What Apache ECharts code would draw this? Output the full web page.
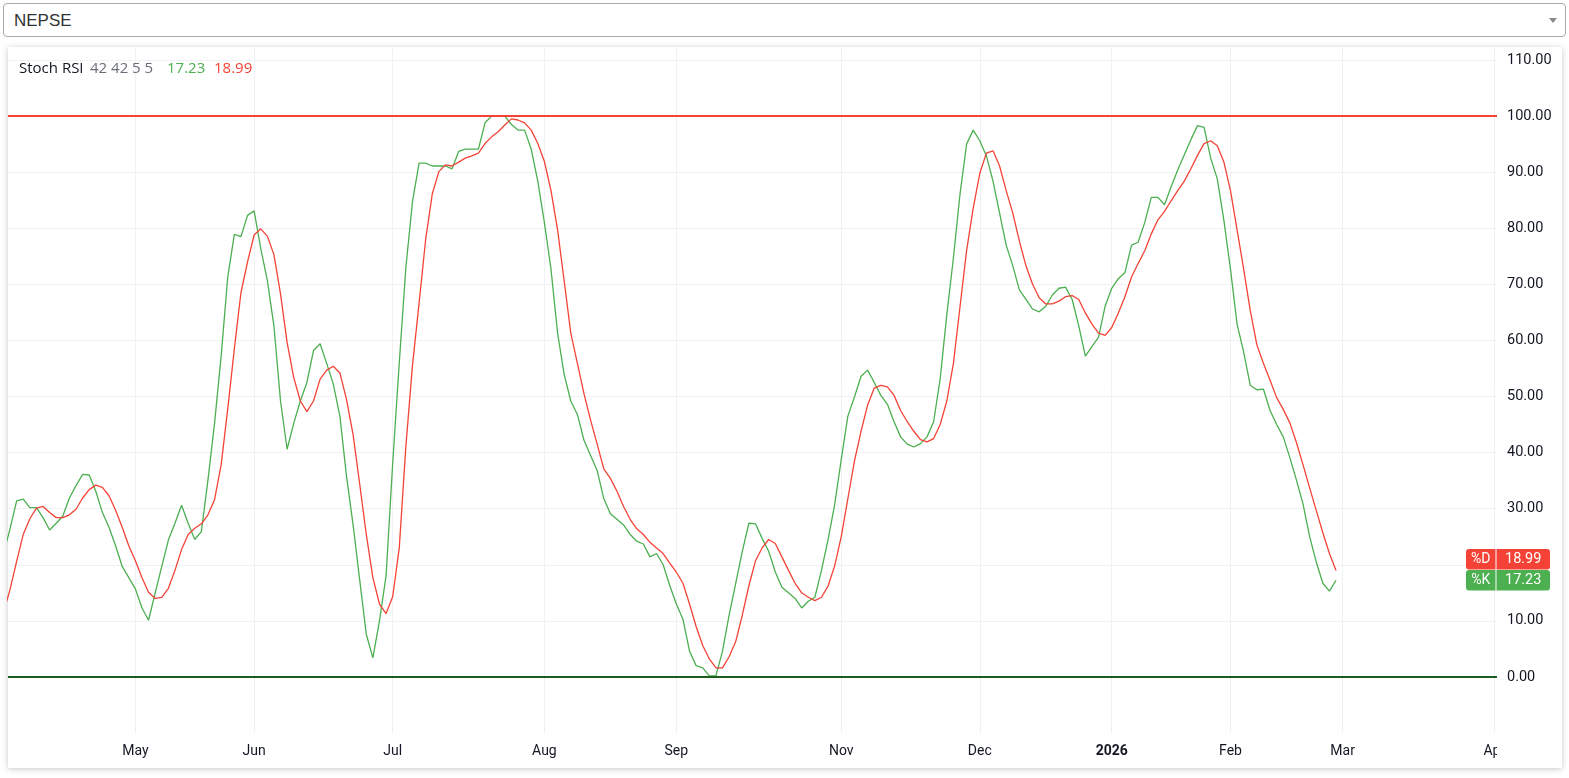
<!DOCTYPE html>
<html>
<head>
<meta charset="utf-8">
<script src="https://cdn.jsdelivr.net/npm/echarts@6/dist/echarts.min.js"></script>
<style>
html,body{margin:0;padding:0;background:#fff;width:1569px;height:778px;overflow:hidden;font-family:"Liberation Sans",Arial,sans-serif;}
#sel{position:absolute;left:3px;top:3px;width:1561px;height:32px;border:1px solid #aaa;border-radius:4px;background:#fff;}
#sel span{position:absolute;left:10px;top:0;line-height:33px;font-size:17px;color:#333;}
#arrow{position:absolute;right:8px;top:14px;width:0;height:0;border-left:4px solid transparent;border-right:4px solid transparent;border-top:5px solid #888;}
#card{position:absolute;left:8px;top:47px;width:1554px;height:721px;background:#fff;box-shadow:0 1px 6px rgba(0,0,0,0.22);}
#chart{position:absolute;left:0;top:0;width:1569px;height:778px;}
</style>
</head>
<body>
<div id="sel"><span>NEPSE</span><div id="arrow"></div></div>
<div id="card"></div>
<div id="chart"></div>
<script>
// ---- data (bar index = trading day; first value belongs to bar -1, partly off-screen) ----
const firstBarIndex = -1;
const kValues = [21.9,
26.4,31.4,31.7,30.2,30.2,28.4,26.2,27.4,28.7,31.9,34.1,36.1,36.0,33.1,29.3,26.7,23.4,19.7,17.7,15.7,
12.3,10.1,15.0,19.7,24.4,27.4,30.6,27.4,24.5,25.9,35.1,45.2,57.2,71.3,78.9,78.5,82.3,83.1,76.4,70.7,
62.6,49.2,40.6,45.2,49.2,52.5,58.2,59.4,55.9,52.2,46.5,35.8,27.1,17.3,7.6,3.4,10.0,18.0,38.0,56.0,
73.0,84.7,91.6,91.6,91.1,91.1,91.1,90.6,93.7,94.1,94.1,94.1,98.8,100,100,100,98.5,97.5,97.5,94.1,
88.4,81.0,72.7,61.3,53.9,49.2,46.8,42.2,39.5,36.8,31.8,29.1,28.1,27.1,25.4,24.2,23.7,21.4,22.0,20.0,
16.3,13.0,10.3,4.6,2.0,1.6,0.2,0.2,4.6,11.0,16.7,22.4,27.4,27.3,24.7,22.4,18.7,16.0,15.0,14.0,
12.3,13.5,14.2,19.0,24.5,30.7,38.8,46.5,49.9,53.6,54.7,52.5,50.2,48.6,45.5,42.8,41.5,41.0,41.6,42.8,
45.5,53.2,64.6,74.7,86.1,95.0,97.5,95.6,92.9,88.4,82.7,77.0,73.3,69.0,67.3,65.6,65.1,66.1,68.1,69.3,
69.5,67.3,62.6,57.2,58.9,60.6,66.1,69.3,71.0,72.1,77.0,77.5,81.0,85.5,85.5,84.2,87.4,90.4,93.1,95.8,
98.3,98.0,92.5,88.8,81.4,72.7,62.9,57.9,52.0,51.2,51.3,47.5,45.0,42.8,39.1,35.1,30.8,25.0,20.5,16.7,
15.3,17.23];
const dValues = [11.4,
15.6,20.6,25.4,28.2,30.1,30.4,29.3,28.4,28.4,28.9,29.9,31.9,33.4,34.2,33.8,32.3,29.7,26.7,23.4,20.7,
17.7,15.1,14.0,14.2,15.8,19.0,22.7,25.4,26.5,27.3,28.9,31.6,37.8,47.8,58.5,68.5,74.0,78.8,79.9,78.6,
75.3,68.3,59.6,53.4,49.2,47.3,49.2,53.1,54.7,55.4,54.2,49.5,43.2,34.4,25.4,17.7,13.0,11.3,14.3,23.0,
41.1,55.5,66.6,78.0,86.1,90.1,91.3,91.1,91.8,92.5,92.9,93.4,95.1,96.3,97.2,98.4,99.5,99.3,98.8,97.5,
95.1,91.9,86.7,79.7,70.6,61.3,55.9,50.5,45.8,41.5,37.1,35.4,33.1,30.4,28.1,26.4,25.4,24.0,23.0,22.0,
20.3,18.7,16.7,13.0,9.0,5.6,3.2,1.6,1.6,3.6,6.3,11.0,16.3,20.7,23.0,24.5,23.8,21.4,19.0,16.7,
15.0,14.2,13.6,14.2,16.2,19.8,25.0,31.8,38.5,43.8,48.5,51.5,52.0,51.7,50.2,47.5,45.5,43.8,42.3,41.9,
42.5,45.0,49.2,55.9,66.0,76.0,83.6,89.8,93.4,93.8,91.1,86.7,82.7,77.7,73.3,70.0,67.6,66.5,66.5,67.0,
67.8,68.0,67.3,64.9,62.9,61.3,60.9,62.3,64.9,67.8,71.3,73.7,76.0,79.0,81.5,83.0,84.9,86.7,88.4,90.6,
93.0,95.1,95.6,94.7,91.8,86.7,79.7,72.7,65.3,59.2,55.9,52.9,49.8,47.7,45.3,41.8,37.8,33.7,29.7,25.7,
22.0,18.99];
const monthTickIndex = [19, 37, 58, 81, 101, 126, 147, 167, 185, 202, 225];
const monthTickLabels = ['May','Jun','Jul','Aug','Sep','Nov','Dec','2026','Feb','Mar','Apr'];
const yTickValues = [0,10,20,30,40,50,60,70,80,90,100,110];
const levelLines = [100, 0];
const indicatorName = 'Stoch RSI';
const indicatorParams = '42 42 5 5';
const lastK = kValues[kValues.length - 1];
const lastD = dValues[dValues.length - 1];

const GREEN = '#4caf50', RED = '#f44336', TXT = '#131722', GRID = '#eff1f4';

const kData = kValues.map((v, i) => [firstBarIndex + i, v]);
const dData = dValues.map((v, i) => [firstBarIndex + i, v]);

const chart = echarts.init(document.getElementById('chart'), null, {renderer: 'canvas'});
chart.setOption({
  animation: false,
  backgroundColor: 'transparent',
  grid: {left: 8, right: 72, top: 48, bottom: 45},
  xAxis: {
    type: 'value', min: -0.31, max: 225.4,
    axisLine: {show: false},
    axisTick: {show: false, customValues: monthTickIndex},
    axisLabel: {
      customValues: monthTickIndex,
      margin: 11, color: TXT, fontSize: 14, fontFamily: 'Roboto',
      formatter: function (v) {
        const i = monthTickIndex.indexOf(Math.round(v));
        if (i < 0) return '';
        const s = monthTickLabels[i];
        return /^\d{4}$/.test(s) ? '{b|' + s + '}' : s;
      },
      rich: {b: {fontWeight: 'bold', fontSize: 14, fontFamily: 'Roboto', color: TXT}}
    },
    splitLine: {show: true, lineStyle: {color: GRID, width: 1}}
  },
  yAxis: {
    type: 'value', position: 'right', min: -10, max: 112.14,
    axisLine: {show: false},
    axisTick: {show: false, customValues: yTickValues},
    axisLabel: {
      customValues: yTickValues, margin: 10, color: TXT, fontSize: 14.5, fontFamily: 'Roboto',
      formatter: v => v.toFixed(2)
    },
    splitLine: {show: true, lineStyle: {color: GRID, width: 1}}
  },
  series: [
    {
      name: '%K', type: 'line', data: kData, showSymbol: false, symbol: 'none',
      lineStyle: {color: GREEN, width: 1.3}, z: 3,
      markLine: {
        silent: true, symbol: ['none', 'none'], label: {show: false},
        data: [
          {yAxis: levelLines[0], lineStyle: {color: RED, width: 2, type: 'solid'}},
          {yAxis: levelLines[1], lineStyle: {color: '#1b5e20', width: 2, type: 'solid'}}
        ]
      }
    },
    {
      name: '%D', type: 'line', data: dData, showSymbol: false, symbol: 'none',
      lineStyle: {color: RED, width: 1.3}, z: 4
    }
  ]
});

const yK = chart.convertToPixel({yAxisIndex: 0}, lastK);
const yD = Math.min(chart.convertToPixel({yAxisIndex: 0}, lastD), yK - 21);

function txt(x, y, text, color, font, align) {
  return {type: 'text', x: x, y: y, z: 60,
    style: {text: text, fill: color, font: font, align: align || 'left', verticalAlign: 'middle',
            textAlign: align || 'left', textVerticalAlign: 'middle'}};
}
function tag(yc, color, name, val) {
  return [
    {type: 'rect', z: 50, shape: {x: 1466, y: yc - 10.3, width: 29.5, height: 20.6, r: [3, 0, 0, 3]}, style: {fill: color}},
    {type: 'rect', z: 50, shape: {x: 1496.5, y: yc - 10.3, width: 53.5, height: 20.6, r: [0, 3, 3, 0]}, style: {fill: color}},
    txt(1480.8, yc + 0.5, name, '#fff', '14px Roboto', 'center'),
    txt(1523.2, yc + 0.5, val, '#fff', '14.5px Roboto', 'center')
  ];
}

chart.setOption({
  graphic: [
    // clip the last (future) time label at the price-scale edge
    {type: 'rect', z: 40, shape: {x: 1497, y: 737, width: 63, height: 28}, style: {fill: '#fff'}},
    txt(19, 69, indicatorName, TXT, '15px "Open Sans"'),
    txt(90, 69, indicatorParams, '#6a6d78', '15px "Open Sans"'),
    txt(167, 69, lastK.toFixed(2), GREEN, '15px "Open Sans"'),
    txt(214, 69, lastD.toFixed(2), RED, '15px "Open Sans"'),
    ...tag(yD, RED, '%D', lastD.toFixed(2)),
    ...tag(yK, GREEN, '%K', lastK.toFixed(2))
  ]
});
</script>
</body>
</html>
